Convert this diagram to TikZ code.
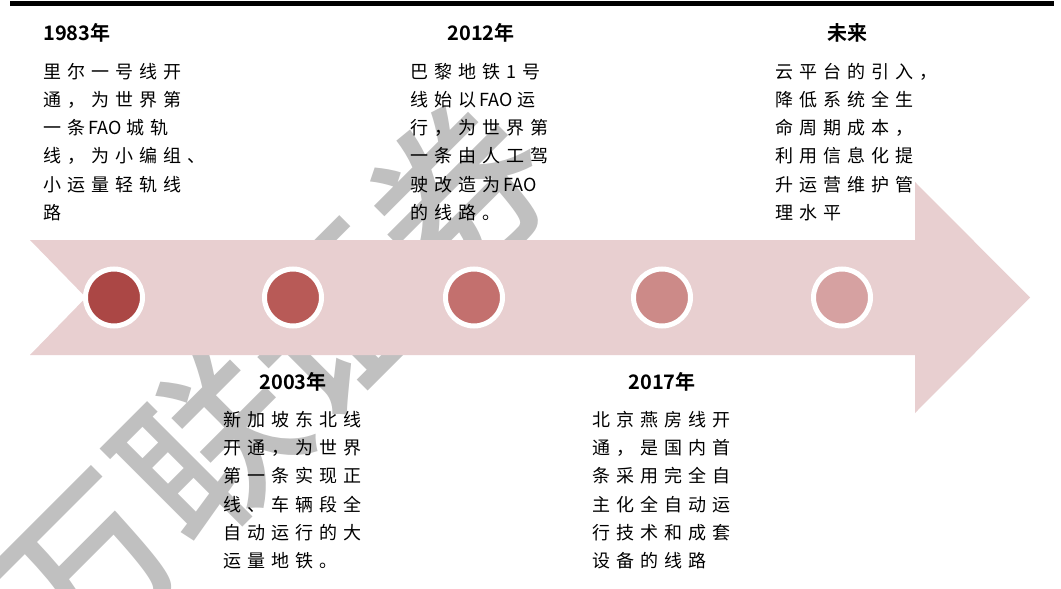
\documentclass[tikz,border=0pt]{standalone}
\usepackage{fontspec}
\newfontfamily\cjkbody[LetterSpace=34]{Noto Sans CJK SC}
\newfontfamily\cjkplain{Noto Sans CJK SC}
\newfontfamily\cjkbold[BoldFont={Noto Sans CJK SC Bold}]{Noto Sans CJK SC}
\newfontfamily\cjkwm{Noto Sans CJK SC Medium}
\definecolor{arrowpink}{HTML}{E8CFD0}
\definecolor{cA}{HTML}{AB4745}
\definecolor{cB}{HTML}{B85A57}
\definecolor{cC}{HTML}{C3706E}
\definecolor{cD}{HTML}{CC8A88}
\definecolor{cE}{HTML}{D6A1A1}
\definecolor{wmgray}{HTML}{C0C0C0}
\newcommand{\fao}{\hspace{3pt}\mbox{\cjkplain FAO}\hspace{5pt}}
\begin{document}
\begin{tikzpicture}[x=1pt,y=-1pt,
  body/.style={anchor=north west, inner sep=0pt, align=left, font=\cjkbody\fontsize{18}{28.2}\selectfont},
  yeartitle/.style={inner sep=0pt, font=\cjkbold\bfseries\fontsize{20}{24}\selectfont},
  dot/.style={circle, draw=white, line width=5pt, minimum size=57pt, inner sep=0pt},
  wm/.style={inner sep=0pt, text=wmgray, font=\cjkwm\fontsize{176}{190}\selectfont}]
\useasboundingbox (0,0) rectangle (1061,589);
\fill[white] (0,0) rectangle (1061,589);
% watermark
\node[wm, rotate=45] (wm) at (272,383) {万联证券};
% top rule
\draw[line width=5pt] (10,3.5) -- (1054,3.5);
% arrow
\fill[arrowpink] (30,240) -- (915,240) -- (915,182) -- (1030,297.5) -- (915,413) -- (915,355) -- (30,355) -- (86,297.5) -- cycle;
% dots
\node[dot, fill=cA] (d1) at (114,297.5) {};
\node[dot, fill=cB] (d2) at (293,297.5) {};
\node[dot, fill=cC] (d3) at (474,297.5) {};
\node[dot, fill=cD] (d4) at (662,297.5) {};
\node[dot, fill=cE] (d5) at (842,297.5) {};
% titles
\node[yeartitle, anchor=west] (t1) at (43,33) {1983年};
\node[yeartitle] (t3) at (481,33) {2012年};
\node[yeartitle] (t5) at (847,33) {未来};
\node[yeartitle] (t2) at (293,382) {2003年};
\node[yeartitle] (t4) at (662,382) {2017年};
% bodies
\node[body] (b1) at (43,63) {里尔一号线开\\通，为世界第\\一条\fao 城轨\\线，为小编组、\\小运量轻轨线\\路};
\node[body] (b3) at (410,63) {巴黎地铁1号\\线始以\fao 运\\行，为世界第\\一条由人工驾\\驶改造为\fao\\的线路。};
\node[body] (b5) at (775,63) {云平台的引入，\\降低系统全生\\命周期成本，\\利用信息化提\\升运营维护管\\理水平};
\node[body] (b2) at (223,411) {新加坡东北线\\开通，为世界\\第一条实现正\\线、车辆段全\\自动运行的大\\运量地铁。};
\node[body] (b4) at (592,411) {北京燕房线开\\通，是国内首\\条采用完全自\\主化全自动运\\行技术和成套\\设备的线路};
\end{tikzpicture}
\end{document}
